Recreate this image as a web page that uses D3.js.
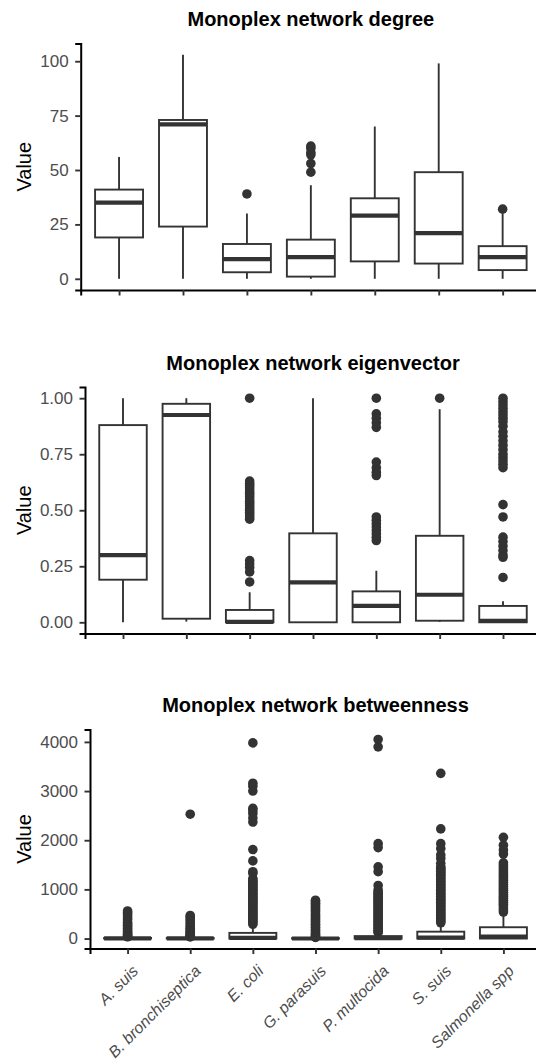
<!DOCTYPE html>
<html>
<head>
<meta charset="utf-8">
<script src="https://cdn.jsdelivr.net/npm/d3@7"></script>
<style>
  body { margin: 0; background: #fff; }
  text { font-family: 'Liberation Sans', Arial, sans-serif; }
</style>
</head>
<body>
<script>
// Species on the x axis (shared by all three panels)
const species = ['A. suis', 'B. bronchiseptica', 'E. coli', 'G. parasuis',
  'P. multocida', 'S. suis', 'Salmonella spp']

// Box stats per species: [lower whisker, Q1, median, Q3, upper whisker]
const degreeBoxes = [
  [0, 19, 35, 41, 56],
  [0, 24, 71, 73, 103],
  [0, 3, 9, 16, 30],
  [0, 1, 10, 18, 43],
  [0, 8, 29, 37, 70],
  [0, 7, 21, 49, 99],
  [0, 4, 10, 15, 30]
]
const degreeOutliers = [[], [], [39], [61, 60, 58, 57, 53, 49], [], [], [32]]
const degreeTicks = [0, 25, 50, 75, 100]

const eigenBoxes = [
  [0, 0.19, 0.30, 0.88, 1.0],
  [0.003, 0.016, 0.925, 0.975, 1.0],
  [0, 0, 0.002, 0.055, 0.134],
  [0, 0, 0.178, 0.397, 1.0],
  [0, 0, 0.073, 0.138, 0.23],
  [0.002, 0.007, 0.123, 0.386, 0.951],
  [0, 0, 0.007, 0.073, 0.094]
]
const eigenOutliers = [
  [],
  [],
  [1.0, 0.63, 0.62, 0.61, 0.60, 0.59, 0.58, 0.57, 0.56, 0.55, 0.54, 0.53, 0.52,
    0.51, 0.50, 0.49, 0.48, 0.47, 0.46, 0.275, 0.26, 0.245, 0.225, 0.18],
  [],
  [1.0, 0.93, 0.91, 0.89, 0.87, 0.715, 0.69, 0.67, 0.655, 0.47, 0.455, 0.44,
    0.425, 0.41, 0.395, 0.38, 0.365],
  [1.0],
  [1.0, 0.985, 0.97, 0.955, 0.94, 0.925, 0.91, 0.895, 0.875, 0.85, 0.83, 0.81,
    0.79, 0.77, 0.75, 0.735, 0.72, 0.705, 0.69, 0.525, 0.47, 0.38, 0.36, 0.34,
    0.32, 0.30, 0.29, 0.20]
]
const eigenTicks = [0, 0.25, 0.5, 0.75, 1]

const betweenBoxes = [
  [0, 0, 2, 12, 28],
  [0, 0, 2, 10, 25],
  [0, 0, 15, 115, 280],
  [0, 0, 1, 8, 20],
  [0, 0, 8, 50, 120],
  [0, 0, 20, 140, 300],
  [0, 0, 40, 230, 510]
]
const betweenOutliers = [
  [560, 530, 500, 460, 420, 380, 330, 300, 270, 240, 210, 180, 150, 120, 100,
    80, 60, 45, 35],
  [2530, 470, 440, 400, 360, 320, 280, 240, 210, 180, 150, 120, 100, 80, 60,
    45, 32],
  [3980, 3160, 3100, 3000, 2650, 2600, 2540, 2450, 2370, 1810, 1580, 1360, 1330,
    1220, 1190, 1160, 1130, 1100, 1070, 1040, 1010, 980, 950, 920, 890, 860, 830,
    800, 770, 740, 710, 680, 650, 620, 590, 560, 530, 500, 470, 440, 410, 380,
    350, 320, 290],
  [780, 750, 720, 690, 660, 630, 600, 570, 540, 500, 470, 440, 410, 380, 350,
    320, 290, 260, 230, 200, 170, 140, 110, 80, 60, 40, 28, 22],
  [4050, 3900, 1930, 1850, 1460, 1360, 1080, 990, 950, 920, 890, 860, 830, 800,
    770, 740, 710, 680, 650, 620, 590, 560, 530, 500, 470, 440, 410, 380, 350,
    320, 290, 260, 230, 200, 170, 140, 125],
  [3360, 2230, 1930, 1830, 1700, 1630, 1530, 1460, 1430, 1400, 1370, 1340, 1310,
    1280, 1250, 1220, 1190, 1160, 1130, 1100, 1070, 1040, 1010, 980, 950, 920,
    890, 860, 830, 800, 770, 740, 710, 680, 650, 620, 590, 560, 530, 500, 470,
    440, 410, 380, 350, 320],
  [2060, 1900, 1800, 1720, 1540, 1500, 1460, 1420, 1380, 1340, 1300, 1260, 1220,
    1180, 1140, 1100, 1060, 1020, 980, 940, 900, 860, 820, 780, 740, 700, 660,
    620, 580, 540]
]
const betweenTicks = [0, 1000, 2000, 3000, 4000]

const W = 536
const H = 1060
const plotRight = 541 // panels run slightly past the right edge of the picture
const ink = '#333333'

const svg = d3.select('body').append('svg')
  .attr('width', W)
  .attr('height', H)

const panels = [
  { title: 'Monoplex network degree', boxes: degreeBoxes, outliers: degreeOutliers,
    ticks: degreeTicks, fmt: d3.format('d'), left: 80.7, top: 43.5, bottom: 290, titleY: 25.5, labels: false },
  { title: 'Monoplex network eigenvector', boxes: eigenBoxes, outliers: eigenOutliers,
    ticks: eigenTicks, fmt: d3.format('.2f'), left: 85, top: 387, bottom: 633.5, titleY: 369.5, labels: false },
  { title: 'Monoplex network betweenness', boxes: betweenBoxes, outliers: betweenOutliers,
    ticks: betweenTicks, fmt: d3.format('d'), left: 90, top: 729.5, bottom: 948.5, titleY: 712, labels: true }
]

panels.forEach(p => {
  const g = svg.append('g')

  const all = p.boxes.flat().concat(p.outliers.flat())
  const lo = d3.min(all)
  const hi = d3.max(all)
  const pad = (hi - lo) * 0.05

  const x = d3.scalePoint()
    .domain(species)
    .range([p.left, plotRight])
    .padding(0.6)
  const y = d3.scaleLinear()
    .domain([lo - pad, hi + pad])
    .range([p.bottom, p.top])
  const bw = x.step() * 0.75

  // title
  g.append('text')
    .attr('x', (p.left + plotRight) / 2)
    .attr('y', p.titleY)
    .attr('text-anchor', 'middle')
    .style('font-size', '20px')
    .style('font-weight', 'bold')
    .style('fill', '#000')
    .text(p.title)

  // y axis title
  g.append('text')
    .attr('transform', `translate(31, ${(p.top + p.bottom) / 2}) rotate(-90)`)
    .attr('text-anchor', 'middle')
    .style('font-size', '20px')
    .style('fill', '#000')
    .text('Value')

  // boxes
  species.forEach((s, i) => {
    const [wLo, q1, med, q3, wHi] = p.boxes[i]
    const cx = x(s)
    const bg = g.append('g')

    bg.selectAll('circle')
      .data(p.outliers[i])
      .enter()
      .append('circle')
      .attr('cx', cx)
      .attr('cy', d => y(d))
      .attr('r', 4.8)
      .style('fill', ink)

    bg.append('line')
      .attr('x1', cx).attr('x2', cx)
      .attr('y1', y(wHi)).attr('y2', y(q3))
      .style('stroke', ink).style('stroke-width', 1.9)
    bg.append('line')
      .attr('x1', cx).attr('x2', cx)
      .attr('y1', y(q1)).attr('y2', y(wLo))
      .style('stroke', ink).style('stroke-width', 1.9)

    bg.append('rect')
      .attr('x', cx - bw / 2)
      .attr('y', y(q3))
      .attr('width', bw)
      .attr('height', Math.max(0, y(q1) - y(q3)))
      .style('fill', '#fff')
      .style('stroke', ink)
      .style('stroke-width', 1.9)

    bg.append('line')
      .attr('x1', cx - bw / 2).attr('x2', cx + bw / 2)
      .attr('y1', y(med)).attr('y2', y(med))
      .style('stroke', ink).style('stroke-width', 4.2)
  })

  // axes
  const yAxis = g.append('g')
    .attr('transform', `translate(${p.left}, 0)`)
    .call(d3.axisLeft(y).tickValues(p.ticks).tickFormat(p.fmt).tickSizeOuter(0).tickSize(5.5).tickPadding(6.5))
  const xAxis = g.append('g')
    .attr('transform', `translate(0, ${p.bottom})`)
    .call(d3.axisBottom(x).tickSizeOuter(0).tickSize(5.5)
      .tickFormat(p.labels ? d => d : () => ''))

  ;[yAxis, xAxis].forEach(a => {
    a.select('.domain').style('stroke', '#000').style('stroke-width', 2)
    a.selectAll('.tick line').style('stroke', ink).style('stroke-width', 1.9)
    a.selectAll('.tick text')
      .style('font-size', '17px')
      .style('fill', '#4d4d4d')
      .style('font-family', "'Liberation Sans', Arial, sans-serif")
  })

  if (p.labels) {
    xAxis.selectAll('.tick text')
      .attr('x', 0)
      .attr('y', 0)
      .attr('dy', '0.71em')
      .attr('text-anchor', 'end')
      .style('font-size', '16px')
      .style('font-style', 'italic')
      .attr('transform', `translate(3, ${964 - p.bottom}) rotate(-45)`)
  }
})
</script>
</body>
</html>
